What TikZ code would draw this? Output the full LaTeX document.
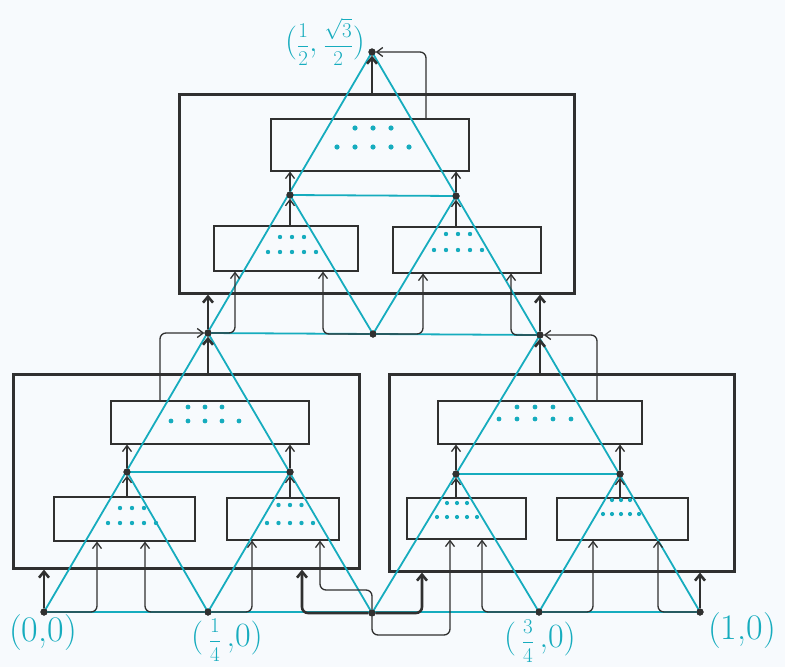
\RequirePackage{fix-cm}
\documentclass[tikz,border=0pt]{standalone}
\usetikzlibrary{arrows.meta,calc}
\definecolor{cy}{RGB}{22,172,190}
\definecolor{ink}{RGB}{48,48,48}
\definecolor{paper}{RGB}{247,250,253}
\newcommand\mydots[5]{%
  \foreach \i in {-1,0,1}{\fill[cy] ({#1+\i*#4},#2) circle (#5);}%
  \foreach \i in {-2,-1,0,1,2}{\fill[cy] ({#1+\i*#4},#3) circle (#5);}}
\newcommand\bigfr[2]{{\fontsize{21}{25}\selectfont$\displaystyle\frac{#1}{#2}$}}
\tikzset{
  outerbox/.style={draw=ink, line width=2.6pt, anchor=north west, inner sep=0pt},
  innerbox/.style={draw=ink, line width=1.5pt, anchor=north west, inner sep=0pt},
  thn/.style={draw=ink, line width=1.3pt, rounded corners=6pt,
    -{Straight Barb[length=6pt,width=9pt,line width=1.3pt]}},
  thk/.style={draw=ink, line width=2.6pt, rounded corners=6pt,
    -{Straight Barb[length=6pt,width=10pt]}},
  cyl/.style={draw=cy, line width=1.8pt},
  jdot/.style={circle, fill=ink, inner sep=0pt, minimum size=7pt},
  lab/.style={text=cy, inner sep=0pt, font=\fontsize{36}{40}\selectfont},
  flab/.style={text=cy, inner sep=0pt, font=\fontsize{34}{38}\selectfont}
}
\begin{document}
\begin{tikzpicture}[x=1pt,y=-1pt]
\useasboundingbox (0,0) rectangle (785,667);
\fill[paper] (0,0) rectangle (785,667);

% boxes
\node[outerbox, minimum width=395pt, minimum height=199pt] (T) at (178,93) {};
\node[innerbox, minimum width=198pt, minimum height=52pt] (Ttop) at (270,118) {};
\node[innerbox, minimum width=144pt, minimum height=45pt] (Tl) at (213,225) {};
\node[innerbox, minimum width=148pt, minimum height=46pt] (Tr) at (392,226) {};

\node[outerbox, minimum width=346pt, minimum height=194pt] (Lo) at (12,373) {};
\node[innerbox, minimum width=198pt, minimum height=43pt] (Ltop) at (110,400) {};
\node[innerbox, minimum width=141pt, minimum height=44pt] (Lbl) at (53,496) {};
\node[innerbox, minimum width=112pt, minimum height=42pt] (Lbr) at (226,497) {};

\node[outerbox, minimum width=345pt, minimum height=197pt] (Ro) at (388,373) {};
\node[innerbox, minimum width=204pt, minimum height=43pt] (Rtop) at (437,400) {};
\node[innerbox, minimum width=119pt, minimum height=41pt] (Rbl) at (406,497) {};
\node[innerbox, minimum width=131pt, minimum height=42pt] (Rbr) at (556,497) {};

% dots inside boxes
\mydots{373}{128}{147}{18}{2.6pt}
\mydots{292}{237}{252}{12}{2.2pt}
\mydots{458}{234}{250}{12}{2.2pt}
\mydots{205}{407}{421}{17}{2.4pt}
\mydots{132}{508}{523}{12}{2.2pt}
\mydots{290}{505}{523}{11.5}{2.2pt}
\mydots{535}{407}{419}{18}{2.4pt}
\mydots{457}{503}{517}{10}{2.1pt}
\mydots{621}{500}{514}{9}{2.1pt}

% junction points
\node[jdot] (A) at (44,612) {};
\node[jdot] (Q1) at (208,612) {};
\node[jdot] (M) at (372,613) {};
\node[jdot] (Q3) at (539,612) {};
\node[jdot] (B) at (700,612) {};
\node[jdot] (L) at (208,333) {};
\node[jdot] (R) at (540,335) {};
\node[jdot] (C) at (372,52) {};
\node[jdot] (l1) at (127,472) {};
\node[jdot] (l2) at (290,472) {};
\node[jdot] (r1) at (456,474) {};
\node[jdot] (r2) at (620,474) {};
\node[jdot] (t1) at (290,195) {};
\node[jdot] (t2) at (456,196) {};
\node[jdot] (U) at (373,334) {};

% cyan Sierpinski lines
\draw[cyl] (A.center) -- (B.center) -- (C.center) -- cycle;
\draw[cyl] (L.center) -- (R.center) -- (M.center) -- cycle;
\draw[cyl] (l1.center) -- (l2.center) -- (Q1.center) -- cycle;
\draw[cyl] (r1.center) -- (r2.center) -- (Q3.center) -- cycle;
\draw[cyl] (t1.center) -- (t2.center) -- (U.center) -- cycle;

% top section connectors
\draw[thk] (C |- T.north) -- (C);
\draw[thn] (426,0 |- Ttop.north) |- (C);
\draw[thn] (t1) -- (t1 |- Ttop.south);
\draw[thn] (t2) -- (t2 |- Ttop.south);
\draw[thn] (t1 |- Tl.north) -- (t1);
\draw[thn] (t2 |- Tr.north) -- (t2);
\draw[thn] (L) -| (235,0 |- Tl.south);
\draw[thn] (U) -| (323,0 |- Tl.south);
\draw[thn] (U) -| (423,0 |- Tr.south);
\draw[thn] (R) -| (511,0 |- Tr.south);
\draw[thk] (L) -- (L |- T.south);
\draw[thk] (R) -- (R |- T.south);

% middle connectors
\draw[thk] (L |- Lo.north) -- (L);
\draw[thn] (160,0 |- Ltop.north) |- (L);
\draw[thk] (R |- Ro.north) -- (R);
\draw[thn] (597,0 |- Rtop.north) |- (R);

% left section
\draw[thn] (l1) -- (l1 |- Ltop.south);
\draw[thn] (l2) -- (l2 |- Ltop.south);
\draw[thn] (l1 |- Lbl.north) -- (l1);
\draw[thn] (l2 |- Lbr.north) -- (l2);
\draw[thk] (A) -- (A |- Lo.south);
\draw[thn] (A) -| (97,0 |- Lbl.south);
\draw[thn] (Q1) -| (145,0 |- Lbl.south);
\draw[thn] (Q1) -| (252,0 |- Lbr.south);
\draw[thn] (M) |- (320,590) -- (320,0 |- Lbr.south);
\draw[thk] (M) -| (302,0 |- Lo.south);

% right section
\draw[thk] (M) -| (422,0 |- Ro.south);
\draw[thn] (M) |- (450,635) -- (450,0 |- Rbl.south);
\draw[thn] (Q3) -| (482,0 |- Rbl.south);
\draw[thn] (Q3) -| (593,0 |- Rbr.south);
\draw[thn] (B) -| (658,0 |- Rbr.south);
\draw[thk] (B) -- (B |- Ro.south);
\draw[thn] (r1) -- (r1 |- Rtop.south);
\draw[thn] (r2) -- (r2 |- Rtop.south);
\draw[thn] (r1 |- Rbl.north) -- (r1);
\draw[thn] (r2 |- Rbr.north) -- (r2);

% junction dots on top of the lines
\foreach \n in {A,Q1,M,Q3,B,L,R,C,l1,l2,r1,r2,t1,t2,U}
  \fill[ink] (\n.center) circle (3.6pt);

% labels
\node[lab] (lA) at (43,633) {(0,0)};
\node[flab] (lQ1) at (227,640) {(\,\bigfr{1}{4}\,,0)};
\node[flab] (lQ3) at (540,641) {(\,\bigfr{3}{4}\,,0)};
\node[lab] (lB) at (742,631) {(1,0)};
\node[flab] (lC) at (325,42) {(\bigfr{1}{2},\,\bigfr{\sqrt{3}}{2})};
\end{tikzpicture}
\end{document}
